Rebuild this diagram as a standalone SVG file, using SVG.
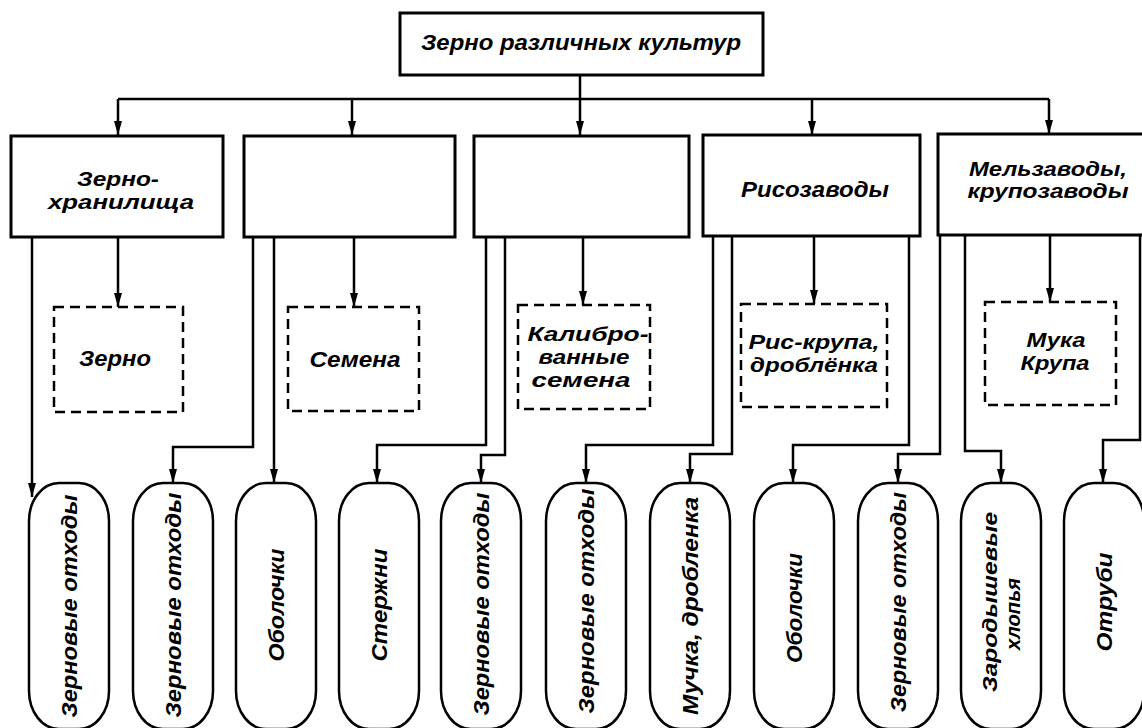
<svg xmlns="http://www.w3.org/2000/svg" width="1142" height="728" viewBox="0 0 1142 728">
<defs>
<marker id="arr" viewBox="0 0 14 8" refX="14" refY="4" markerWidth="14" markerHeight="8" orient="auto" markerUnits="userSpaceOnUse">
<path d="M0,0 L14,4 L0,8 z" fill="#000"/>
</marker>
<style>
text{font-family:"Liberation Sans",Arial,sans-serif;font-style:italic;font-weight:bold;font-size:22px;fill:#000;text-anchor:middle}
.m{font-size:20px}
.box{fill:#fff;stroke:#000;stroke-width:3}
.dash{fill:#fff;stroke:#000;stroke-width:2.5;stroke-dasharray:10 6}
.pill{fill:#fff;stroke:#000;stroke-width:2.5}
.c{fill:none;stroke:#000;stroke-width:2.5;marker-end:url(#arr)}
.l{fill:none;stroke:#000;stroke-width:2.5}
</style>
</defs>
<rect width="1142" height="728" fill="#fff"/>

<g id="connectors">
<path class="c" d="M580,75 V135"/>
<path class="l" d="M118,99 H1049"/>
<path class="c" d="M118,99 V135"/>
<path class="c" d="M352,99 V135"/>
<path class="c" d="M812,99 V135"/>
<path class="c" d="M1049,99 V134"/>
<path class="c" d="M32,237 V497"/>
<path class="c" d="M118,237 V307"/>
<path class="c" d="M253,237 V447 H173 V483"/>
<path class="c" d="M274,237 V483"/>
<path class="c" d="M354,237 V307"/>
<path class="c" d="M486,237 V445 H377 V483"/>
<path class="c" d="M505,237 V455 H481 V483"/>
<path class="c" d="M583,237 V305"/>
<path class="c" d="M713,236 V445 H586 V483"/>
<path class="c" d="M732,236 V454 H690 V483"/>
<path class="c" d="M814,236 V304"/>
<path class="c" d="M909,236 V445 H793 V483"/>
<path class="c" d="M940,235 V454 H898 V483"/>
<path class="c" d="M965,235 V451 H1001 V483"/>
<path class="c" d="M1050,235 V302"/>
<path class="c" d="M1140,235 V440 H1103 V483"/>
</g>

<g id="top"><rect class="box" x="400" y="13" width="363" height="62"/><text x="581" y="50" textLength="320" lengthAdjust="spacingAndGlyphs">Зерно различных культур</text></g>

<g id="b1"><rect class="box" x="11" y="136" width="212" height="101"/><text class="m" x="118" y="186" textLength="82" lengthAdjust="spacingAndGlyphs">Зерно-</text><text class="m" x="121" y="209" textLength="146" lengthAdjust="spacingAndGlyphs">хранилища</text></g>
<g id="b2"><rect class="box" x="244" y="136" width="211" height="101"/></g>
<g id="b3"><rect class="box" x="474" y="136" width="215" height="101"/></g>
<g id="b4"><rect class="box" x="703" y="135" width="217" height="101"/><text x="815" y="197" textLength="148" lengthAdjust="spacingAndGlyphs">Рисозаводы</text></g>
<g id="b5"><rect class="box" x="938" y="134" width="214" height="101"/><text class="m" x="1048" y="176" textLength="158" lengthAdjust="spacingAndGlyphs">Мельзаводы,</text><text class="m" x="1048" y="198" textLength="161" lengthAdjust="spacingAndGlyphs">крупозаводы</text></g>

<g id="d1"><rect class="dash" x="54" y="307" width="129" height="105"/><text x="115" y="366" textLength="72" lengthAdjust="spacingAndGlyphs">Зерно</text></g>
<g id="d2"><rect class="dash" x="288" y="307" width="131" height="104"/><text x="355" y="367" textLength="91" lengthAdjust="spacingAndGlyphs">Семена</text></g>
<g id="d3"><rect class="dash" x="518" y="305" width="132" height="104"/><text class="m" x="588" y="341" textLength="121" lengthAdjust="spacingAndGlyphs">Калибро-</text><text class="m" x="584" y="364" textLength="91" lengthAdjust="spacingAndGlyphs">ванные</text><text class="m" x="581" y="387" textLength="99" lengthAdjust="spacingAndGlyphs">семена</text></g>
<g id="d4"><rect class="dash" x="741" y="304" width="146" height="103"/><text class="m" x="814" y="349" textLength="131" lengthAdjust="spacingAndGlyphs">Рис-крупа,</text><text class="m" x="814" y="372" textLength="128" lengthAdjust="spacingAndGlyphs">дроблёнка</text></g>
<g id="d5"><rect class="dash" x="985" y="302" width="131" height="103"/><text class="m" x="1056" y="347" textLength="59" lengthAdjust="spacingAndGlyphs">Мука</text><text class="m" x="1055" y="370" textLength="69" lengthAdjust="spacingAndGlyphs">Крупа</text></g>

<g id="p1"><rect class="pill" x="29" y="483" width="80" height="246" rx="30" ry="38"/><text transform="rotate(-90 69 606)" x="69" y="614" textLength="223" lengthAdjust="spacingAndGlyphs">Зерновые отходы</text></g>
<g id="p2"><rect class="pill" x="133" y="483" width="80" height="246" rx="30" ry="38"/><text transform="rotate(-90 173 605)" x="173" y="613" textLength="225" lengthAdjust="spacingAndGlyphs">Зерновые отходы</text></g>
<g id="p3"><rect class="pill" x="236" y="483" width="80" height="246" rx="30" ry="38"/><text transform="rotate(-90 276 605)" x="276" y="613" textLength="113" lengthAdjust="spacingAndGlyphs">Оболочки</text></g>
<g id="p4"><rect class="pill" x="339" y="483" width="80" height="246" rx="30" ry="38"/><text transform="rotate(-90 379 605)" x="379" y="613" textLength="113" lengthAdjust="spacingAndGlyphs">Стержни</text></g>
<g id="p5"><rect class="pill" x="441" y="483" width="80" height="246" rx="30" ry="38"/><text transform="rotate(-90 481 604)" x="481" y="612" textLength="223" lengthAdjust="spacingAndGlyphs">Зерновые отходы</text></g>
<g id="p6"><rect class="pill" x="546" y="483" width="80" height="246" rx="30" ry="38"/><text transform="rotate(-90 586 601)" x="586" y="609" textLength="225" lengthAdjust="spacingAndGlyphs">Зерновые отходы</text></g>
<g id="p7"><rect class="pill" x="650" y="483" width="80" height="246" rx="30" ry="38"/><text transform="rotate(-90 690 606)" x="690" y="614" textLength="218" lengthAdjust="spacingAndGlyphs">Мучка, дробленка</text></g>
<g id="p8"><rect class="pill" x="754" y="483" width="80" height="246" rx="30" ry="38"/><text transform="rotate(-90 794 608)" x="794" y="616" textLength="110" lengthAdjust="spacingAndGlyphs">Оболочки</text></g>
<g id="p9"><rect class="pill" x="858" y="483" width="80" height="246" rx="30" ry="38"/><text transform="rotate(-90 898 602)" x="898" y="610" textLength="220" lengthAdjust="spacingAndGlyphs">Зерновые отходы</text></g>
<g id="p10"><rect class="pill" x="961" y="483" width="80" height="246" rx="30" ry="38"/><text class="m" transform="rotate(-90 1001 602)" x="1001" y="598" textLength="180" lengthAdjust="spacingAndGlyphs">Зародышевые</text><text class="m" transform="rotate(-90 1001 614)" x="1001" y="633" textLength="72" lengthAdjust="spacingAndGlyphs">хлопья</text></g>
<g id="p11"><rect class="pill" x="1064" y="483" width="80" height="246" rx="30" ry="38"/><text transform="rotate(-90 1104 602)" x="1104" y="610" textLength="99" lengthAdjust="spacingAndGlyphs">Отруби</text></g>
</svg>
